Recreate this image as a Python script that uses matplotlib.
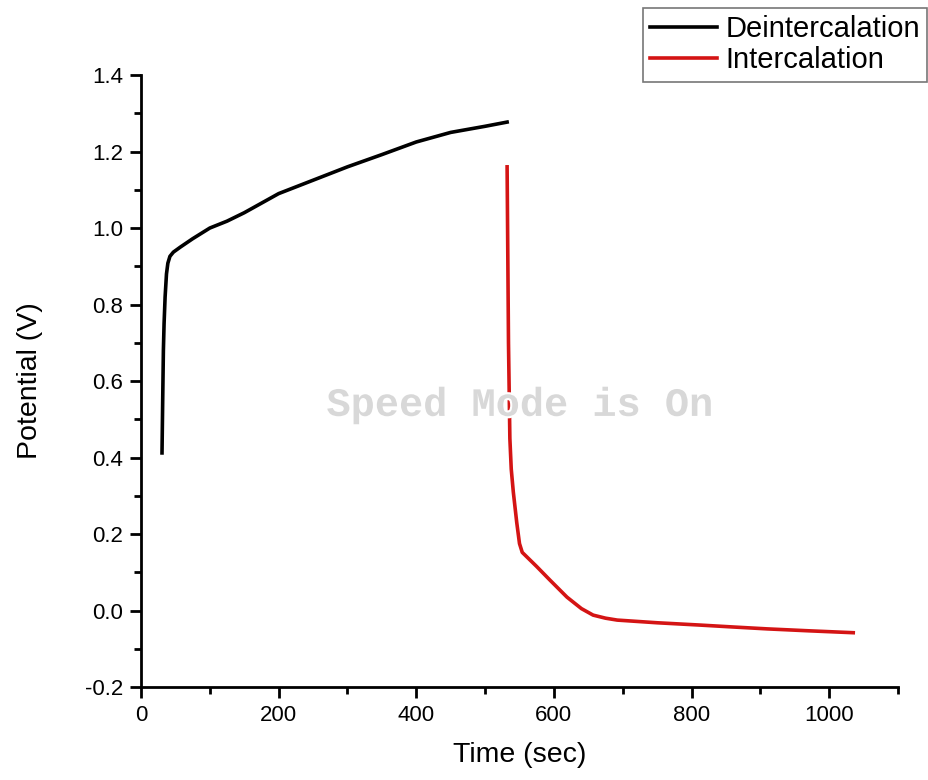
import matplotlib
matplotlib.use("Agg")
import matplotlib.pyplot as plt
import matplotlib.patheffects as pe
from matplotlib.ticker import MultipleLocator

deint_t = [30.5, 31.5, 32.5, 33.5, 35, 37, 39, 42, 47, 57, 75, 100, 125, 150, 175, 200,
           250, 300, 350, 400, 450, 500, 532]
deint_v = [0.412, 0.55, 0.68, 0.75, 0.82, 0.88, 0.908, 0.926, 0.937, 0.950, 0.972, 1.000,
           1.018, 1.040, 1.065, 1.090, 1.125, 1.160, 1.192, 1.225, 1.250, 1.266, 1.277]

int_t = [532, 534, 536, 538, 541, 546, 550, 554, 575, 594, 619, 640, 657, 675, 692, 750,
         812, 860, 910, 970, 1035]
int_v = [1.16, 0.70, 0.45, 0.37, 0.31, 0.23, 0.175, 0.152, 0.115, 0.08, 0.035, 0.005,
         -0.012, -0.02, -0.025, -0.032, -0.038, -0.043, -0.048, -0.053, -0.058]

xticks = [0, 200, 400, 600, 800, 1000]
yticks = [-0.2, 0.0, 0.2, 0.4, 0.6, 0.8, 1.0, 1.2, 1.4]

plt.rcParams['font.family'] = ['Liberation Sans', 'DejaVu Sans']

fig = plt.figure(figsize=(9.29, 7.8), dpi=100)
ax = fig.add_axes([0.1518, 0.1192, 0.8148, 0.7846])

l1, = ax.plot(deint_t, deint_v, color='black', lw=2.6, label='Deintercalation')
l2, = ax.plot(int_t, int_v, color='#d41414', lw=2.6, label='Intercalation')

ax.set_xlim(0, 1100)
ax.set_ylim(-0.2, 1.4)
ax.set_xticks(xticks)
ax.set_xticklabels([str(t) for t in xticks])
ax.set_yticks(yticks)
ax.set_yticklabels([f"{v:.1f}" for v in yticks])
ax.xaxis.set_minor_locator(MultipleLocator(100))
ax.yaxis.set_minor_locator(MultipleLocator(0.1))

for s in ['top', 'right']:
    ax.spines[s].set_visible(False)
for s in ['left', 'bottom']:
    ax.spines[s].set_linewidth(2)
ax.tick_params(which='major', direction='out', length=8, width=2, labelsize=16, pad=5)
ax.tick_params(which='minor', direction='out', length=5, width=2)

ax.set_xlabel('Time (sec)', fontsize=20.5)
ax.set_ylabel('Potential (V)', fontsize=20.5)
ax.xaxis.set_label_coords(0.5, -0.111)
ax.xaxis.label.set_va('center')
ax.yaxis.set_label_coords(-0.1466, 0.5)
ax.yaxis.label.set_ha('center')
ax.yaxis.label.set_va('center')

ax.text(0.5, 0.461, 'Speed Mode is On', transform=ax.transAxes, ha='center', va='center',
        fontsize=29, family='Liberation Mono', fontweight='bold', color='#d8d8d8', zorder=5,
        path_effects=[pe.withStroke(linewidth=3, foreground='white')])

leg = fig.legend(handles=[l1, l2], loc='upper left', bbox_to_anchor=(643 / 929, 1 - 8 / 780),
                 fontsize=21, frameon=True, fancybox=False, edgecolor='#555555',
                 handlelength=2.3, handletextpad=0.28, borderpad=0.25, labelspacing=0.1,
                 borderaxespad=0)
leg.get_frame().set_linewidth(1.2)

fig.savefig('out.png', dpi=100)
